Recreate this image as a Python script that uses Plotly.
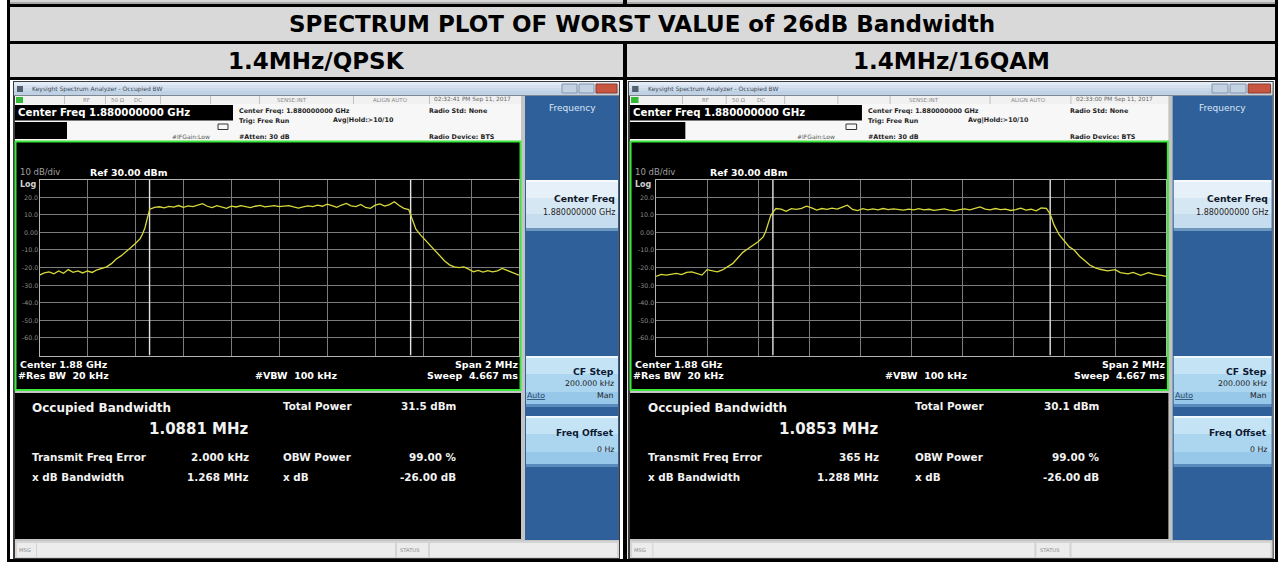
import plotly.graph_objects as go

W, H = 1281, 562
FONT = "DejaVu Sans"

# ------------------------------------------------------------------ data
title_text = "SPECTRUM PLOT OF WORST VALUE of 26dB Bandwidth"
column_titles = ["1.4MHz/QPSK", "1.4MHz/16QAM"]
timestamps = ["02:32:41 PM Sep 11, 2017", "02:33:00 PM Sep 11, 2017"]
occupied_bw = ["1.0881 MHz", "1.0853 MHz"]
total_power = ["31.5 dBm", "30.1 dBm"]
freq_error = ["2.000 kHz", "365 Hz"]
xdb_bandwidth = ["1.268 MHz", "1.288 MHz"]
obw_power = ["99.00 %", "99.00 %"]
xdb_value = ["-26.00 dB", "-26.00 dB"]

# frequency offset from 1.88 GHz centre (MHz) and trace level (dBm)
qpsk_freq_mhz = [-1.00, -0.98, -0.96, -0.94, -0.92, -0.90, -0.88, -0.86, -0.84, -0.82,
                 -0.80, -0.78, -0.76, -0.74, -0.72, -0.70, -0.68, -0.66, -0.64, -0.62,
                 -0.60, -0.58, -0.57, -0.56, -0.55, -0.54, -0.52, -0.50, -0.48, -0.46,
                 -0.44, -0.42, -0.40, -0.38, -0.36, -0.34, -0.32, -0.30, -0.28, -0.26,
                 -0.24, -0.22, -0.20, -0.18, -0.16, -0.14, -0.12, -0.10, -0.08, -0.06,
                 -0.04, -0.02, 0.00, 0.02, 0.04, 0.06, 0.08, 0.10, 0.12, 0.14,
                 0.16, 0.18, 0.20, 0.22, 0.24, 0.26, 0.28, 0.30, 0.32, 0.34,
                 0.36, 0.38, 0.40, 0.42, 0.44, 0.46, 0.48, 0.50, 0.52, 0.54,
                 0.55, 0.56, 0.57, 0.59, 0.61, 0.63, 0.65, 0.67, 0.69, 0.71,
                 0.73, 0.75, 0.77, 0.79, 0.81, 0.83, 0.85, 0.87, 0.89, 0.91,
                 0.93, 0.95, 0.97, 0.99, 1.00]
qpsk_level_dbm = [-24.3, -23.1, -22.5, -23.6, -22.0, -23.3, -21.2, -22.7, -21.9, -23.1,
                  -22.0, -22.8, -21.3, -20.5, -19.6, -17.8, -15.2, -13.4, -11.3, -8.8,
                  -6.4, -3.6, -0.8, 2.6, 8.2, 13.1, 14.1, 14.5, 13.9, 14.7,
                  14.3, 15.2, 14.2, 15.0, 14.6, 15.6, 16.3, 14.8, 14.0, 15.1,
                  14.3, 13.6, 14.9, 14.4, 15.2, 14.6, 14.0, 14.8, 15.3, 14.5,
                  14.9, 15.1, 14.6, 14.9, 15.2, 14.4, 13.7, 14.5, 15.0, 14.6,
                  15.4, 14.8, 16.0, 15.1, 14.2, 15.5, 16.4, 15.0, 14.6, 15.8,
                  14.1, 13.6, 15.4, 16.1, 14.9, 15.7, 17.4, 15.2, 13.6, 12.9,
                  9.0, 4.5, 1.8, -1.6, -4.5, -7.4, -10.0, -13.2, -16.3, -18.5,
                  -19.6, -20.1, -19.7, -20.9, -22.4, -21.7, -22.6, -21.8, -22.5, -21.9,
                  -20.5, -21.6, -22.8, -23.6, -24.4]

qam_freq_mhz = [-1.00, -0.98, -0.96, -0.94, -0.92, -0.90, -0.88, -0.86, -0.84, -0.82,
                -0.80, -0.78, -0.76, -0.74, -0.72, -0.70, -0.68, -0.66, -0.64, -0.62,
                -0.60, -0.58, -0.57, -0.56, -0.55, -0.54, -0.53, -0.51, -0.49, -0.47,
                -0.45, -0.43, -0.41, -0.39, -0.37, -0.35, -0.33, -0.31, -0.29, -0.27,
                -0.25, -0.23, -0.21, -0.19, -0.17, -0.15, -0.13, -0.11, -0.09, -0.07,
                -0.05, -0.03, -0.01, 0.01, 0.03, 0.05, 0.07, 0.09, 0.11, 0.13,
                0.15, 0.17, 0.19, 0.21, 0.23, 0.25, 0.27, 0.29, 0.31, 0.33,
                0.35, 0.37, 0.39, 0.41, 0.43, 0.45, 0.47, 0.49, 0.51, 0.53,
                0.54, 0.55, 0.56, 0.58, 0.60, 0.62, 0.64, 0.66, 0.68, 0.70,
                0.72, 0.74, 0.77, 0.80, 0.82, 0.85, 0.87, 0.90, 0.93, 0.95,
                0.98, 1.00]
qam_level_dbm = [-25.0, -23.9, -24.3, -23.6, -23.3, -24.0, -22.8, -22.5, -23.6, -24.3,
                 -21.2, -22.0, -22.5, -21.4, -19.6, -17.8, -14.6, -11.4, -9.4, -7.6,
                 -5.4, -2.6, 0.6, 5.2, 9.6, 11.8, 13.5, 13.2, 11.9, 13.4,
                 13.0, 13.6, 14.8, 13.9, 12.6, 13.5, 13.0, 13.7, 13.2, 14.3,
                 15.4, 13.0, 12.3, 13.4, 12.8, 13.3, 12.7, 13.5, 12.9, 13.3,
                 13.0, 12.6, 13.2, 12.8, 13.4, 12.7, 13.1, 12.5, 12.9, 13.3,
                 12.6, 12.2, 12.9, 13.3, 12.8, 13.6, 14.4, 13.2, 12.8, 13.5,
                 12.9, 13.2, 12.4, 12.9, 13.7, 12.6, 13.1, 12.2, 13.8, 13.6,
                 11.5, 8.4, 4.2, -1.4, -5.1, -8.3, -10.2, -13.6, -16.0, -18.6,
                 -20.1, -21.0, -21.9, -21.2, -22.9, -23.6, -22.8, -24.4, -22.9, -23.8,
                 -24.5, -25.1]

obw_edges_mhz = [[-0.541, 0.548], [-0.542, 0.545]]
x_grid_mhz = [-0.8, -0.6, -0.4, -0.2, 0.0, 0.2, 0.4, 0.6, 0.8]
y_grid_dbm = [20, 10, 0, -10, -20, -30, -40, -50, -60]
y_tick_text = ["20.0", "10.0", "0.00", "-10.0", "-20.0", "-30.0", "-40.0", "-50.0", "-60.0"]
x_range_mhz = [-1.0, 1.0]
y_range_dbm = [-70, 30]

# ------------------------------------------------------------------ helpers
shapes, annotations = [], []


def px(x):
    return x / W


def py(y):
    return 1 - y / H


def rect(x0, y0, x1, y1, fill, lc=None, lw=0):
    shapes.append(dict(type="rect", xref="paper", yref="paper", layer="below",
                       x0=px(x0), x1=px(x1), y0=py(y1), y1=py(y0),
                       fillcolor=fill, line=dict(color=lc or fill, width=lw)))


def text(x, y, s, size, color, anchor="left", bold=False):
    annotations.append(dict(xref="paper", yref="paper", x=px(x), y=py(y), text=s,
                            showarrow=False, xanchor=anchor, yanchor="middle",
                            borderpad=0, borderwidth=0,
                            font=dict(family=FONT, size=size, color=color,
                                      weight="bold" if bold else "normal")))


# ------------------------------------------------------------------ table
rect(10, 0, 1275, 4, "#d6d6d6")
rect(10, 2.6, 1275, 3.4, "#7a7a7a")
rect(7, 4, 1278, 7, "#000000")
rect(10, 7, 1275, 41, "#d9d9d9")
rect(7, 41, 1278, 44, "#000000")
rect(10, 44, 1275, 77, "#d9d9d9")
rect(7, 77, 1278, 80, "#000000")
rect(7, 0, 10, 562, "#000000")
rect(1275, 0, 1278, 562, "#000000")
text(642, 24, title_text, 23, "#000000", "center", True)
text(316, 61, column_titles[0], 23, "#000000", "center", True)
text(951, 61, column_titles[1], 23, "#000000", "center", True)

title_bands = [("#e3ecf6", 82, 85), ("#d6e2ef", 85, 88), ("#cbdae9", 88, 91), ("#bfd1e4", 91, 95.5)]
cf_bands = [("#f7fbff", 180, 182), ("#e6f0f8", 182, 198), ("#d6e7f4", 198, 214),
            ("#c6ddf0", 214, 228), ("#6e97bf", 228, 231)]


def soft_bands(top):
    return [("#eef8fd", top, top + 2), ("#c4e3f5", top + 2, top + 18),
            ("#acd5f0", top + 18, top + 36), ("#97c7e9", top + 36, top + 48),
            ("#5a8bbd", top + 48, top + 51)]


def screen(i, x0, s):
    def X(x):
        return x0 + s * (x - 15)

    def R(a, y0, b, y1, fill, lc=None, lw=0):
        rect(X(a), y0, X(b), y1, fill, lc, lw)

    def Tt(x, y, t, size, color, anchor="left", bold=False):
        text(X(x), y, t, size, color, anchor, bold)

    # window frame + title bar
    R(13, 81, 620, 559, "#3c3c3c")
    for c, a, b in title_bands:
        R(14, a, 619, b, c)
    R(17, 86, 23, 92, "#55606e")
    Tt(32, 89, "Keysight Spectrum Analyzer - Occupied BW", 6, "#3b4856")
    R(562, 84, 577, 93, "#c3d2e2", "#8496ab", 1)
    R(579, 84, 594, 93, "#c3d2e2", "#8496ab", 1)
    R(596, 84, 617, 93, "#c8553f", "#8c3a2c", 1)

    # content backdrop
    R(15, 96, 619, 541, "#c4c4c4")

    # status row
    R(15, 96, 521, 104, "#f1f1f1")
    for sx in [64, 105, 160, 210, 259, 353, 429]:
        R(sx, 96, sx + 0.8, 104, "#b5b5b5")
    R(16, 97, 23, 103, "#35b835")
    Tt(83, 100, "RF", 5.5, "#8a8a8a")
    Tt(111, 100, "50 Ω", 5.5, "#8a8a8a")
    Tt(134, 100, "DC", 5.5, "#8a8a8a")
    Tt(277, 100, "SENSE:INT", 5.5, "#8a8a8a")
    Tt(373, 100, "ALIGN AUTO", 5.5, "#8a8a8a")
    Tt(434, 100, timestamps[i], 5.8, "#666666")

    # info area
    R(15, 104, 521, 141, "#f7f7f7")
    R(15, 105, 233, 120.5, "#000000")
    R(15, 122, 67, 139, "#000000")
    Tt(18, 112.5, "Center Freq 1.880000000 GHz", 10.2, "#ffffff", bold=True)
    Tt(239, 111, "Center Freq: 1.880000000 GHz", 6.4, "#1e1e1e", bold=True)
    Tt(239, 121.5, "Trig: Free Run", 6.4, "#1e1e1e", bold=True)
    Tt(333, 120, "Avg|Hold:>10/10", 6.4, "#1e1e1e", bold=True)
    Tt(239, 136.5, "#Atten: 30 dB", 6.4, "#1e1e1e", bold=True)
    Tt(172, 136.5, "#IFGain:Low", 6, "#555555")
    Tt(429, 111, "Radio Std: None", 6.4, "#1e1e1e", bold=True)
    Tt(429, 136.5, "Radio Device: BTS", 6.4, "#1e1e1e", bold=True)
    R(218, 124, 228, 129.5, "rgba(0,0,0,0)", "#333333", 1)

    # graph panel
    R(15.5, 141.5, 520.5, 390, "#000000", "#3be83b", 2)
    Tt(20, 172, "10 dB/div", 8.5, "#a0a0a0")
    Tt(90, 172, "Ref 30.00 dBm", 9.4, "#ffffff", bold=True)
    Tt(20, 184, "Log", 8, "#d0d0d0", bold=True)
    Tt(20, 364, "Center 1.88 GHz", 9.5, "#ffffff", bold=True)
    Tt(18, 375.5, "#Res BW  20 kHz", 9.5, "#ffffff", bold=True)
    Tt(255, 375.5, "#VBW  100 kHz", 9.5, "#ffffff", bold=True)
    Tt(518, 364, "Span 2 MHz", 9.5, "#ffffff", "right", True)
    Tt(518, 375.5, "Sweep  4.667 ms", 9.5, "#ffffff", "right", True)

    # measurement area
    R(15, 393, 521, 539, "#000000")
    Tt(32, 408, "Occupied Bandwidth", 12, "#f2f2f2", bold=True)
    Tt(249, 429, occupied_bw[i], 15, "#f2f2f2", "right", True)
    Tt(283, 406, "Total Power", 10.4, "#f2f2f2", bold=True)
    Tt(456, 406, total_power[i], 10.4, "#f2f2f2", "right", True)
    Tt(32, 457, "Transmit Freq Error", 10.4, "#f2f2f2", bold=True)
    Tt(249, 457, freq_error[i], 10.4, "#f2f2f2", "right", True)
    Tt(283, 457, "OBW Power", 10.4, "#f2f2f2", bold=True)
    Tt(456, 457, obw_power[i], 10.4, "#f2f2f2", "right", True)
    Tt(32, 477, "x dB Bandwidth", 10.4, "#f2f2f2", bold=True)
    Tt(249, 477, xdb_bandwidth[i], 10.4, "#f2f2f2", "right", True)
    Tt(283, 477, "x dB", 10.4, "#f2f2f2", bold=True)
    Tt(456, 477, xdb_value[i], 10.4, "#f2f2f2", "right", True)

    # soft-key panel
    R(525, 96, 619, 540, "#30609a")
    Tt(572, 108, "Frequency", 9, "#d8e7f6", "center")
    for c, a, b in cf_bands:
        R(526, a, 618, b, c)
    Tt(615, 198, "Center Freq", 9.2, "#101828", "right", True)
    Tt(615, 213, "1.880000000 GHz", 8, "#222222", "right")
    for c, a, b in soft_bands(356):
        R(526, a, 618, b, c)
    Tt(614, 371, "CF Step", 9.3, "#0c1a33", "right", True)
    Tt(614, 383, "200.000 kHz", 7.8, "#222222", "right")
    Tt(527, 395, "<u>Auto</u>", 7.8, "#1d3f66")
    Tt(614, 395, "Man", 7.8, "#222222", "right")
    for c, a, b in soft_bands(416):
        R(526, a, 618, b, c)
    Tt(614, 433, "Freq Offset", 9.1, "#0c1a33", "right", True)
    Tt(614, 449, "0 Hz", 7.8, "#222222", "right")

    # message bar
    R(15, 541, 619, 558, "#d4d4d4")
    R(17, 543, 36, 557, "#ececec")
    R(37, 543, 395, 557, "#ececec")
    R(397, 543, 428, 557, "#ececec")
    R(430, 543, 617, 557, "#ececec")
    Tt(19, 550, "MSG", 5.2, "#8a8a8a")
    Tt(400, 550, "STATUS", 5.2, "#8a8a8a")
    return X


screen_origin = [(15, 1.0), (630, 1.064)]
mappers = [screen(i, o, s) for i, (o, s) in enumerate(screen_origin)]

# dividers on top of the screenshot row
rect(623, 0, 627, 4, "#000000")
rect(623, 44, 627, 562, "#000000")
rect(7, 559, 1278, 562, "#000000")

# ------------------------------------------------------------------ spectrum plots
fig = go.Figure()
traces = [(qpsk_freq_mhz, qpsk_level_dbm), (qam_freq_mhz, qam_level_dbm)]
GRID_TOP, GRID_BOTTOM = 179.5, 355.5
for i, (fx, lv) in enumerate(traces):
    X = mappers[i]
    sfx = "" if i == 0 else str(i + 1)
    xa, ya = "x" + sfx, "y" + sfx
    for edge in obw_edges_mhz[i]:
        fig.add_trace(go.Scatter(x=[edge, edge], y=y_range_dbm, mode="lines",
                                 line=dict(color="#e4e4e4", width=1.4),
                                 xaxis=xa, yaxis=ya, hoverinfo="skip", showlegend=False))
    fig.add_trace(go.Scatter(x=fx, y=lv, mode="lines",
                             line=dict(color="#d9d93c", width=1.3),
                             xaxis=xa, yaxis=ya, showlegend=False))
    axis_common = dict(showgrid=True, gridcolor="#7c7c7c", gridwidth=1, zeroline=False,
                       showline=True, mirror=True, linecolor="#b4b4b4", linewidth=1,
                       showticklabels=False, ticks="", fixedrange=True)
    fig.layout["xaxis" + sfx] = dict(domain=[px(X(39.5)), px(X(519))], range=x_range_mhz,
                                    tickvals=x_grid_mhz, anchor=ya, **axis_common)
    fig.layout["yaxis" + sfx] = dict(domain=[py(GRID_BOTTOM), py(GRID_TOP)], range=y_range_dbm,
                                    tickvals=y_grid_dbm, anchor=xa, **axis_common)
    for v, t in zip(y_grid_dbm, y_tick_text):
        annotations.append(dict(xref="paper", yref=ya, x=px(X(37.5)), y=v, text=t,
                                showarrow=False, xanchor="right", yanchor="middle",
                                borderpad=0, borderwidth=0,
                                font=dict(family=FONT, size=6.3, color="#8c8c8c")))

fig.update_layout(width=W, height=H, margin=dict(l=0, r=0, t=0, b=0),
                  paper_bgcolor="#ffffff", plot_bgcolor="rgba(0,0,0,0)",
                  shapes=shapes, annotations=annotations, showlegend=False,
                  hovermode=False)
fig.write_html("out.html", config={"displayModeBar": False},
               post_script="document.body.style.margin='0';document.body.style.overflow='hidden';")
